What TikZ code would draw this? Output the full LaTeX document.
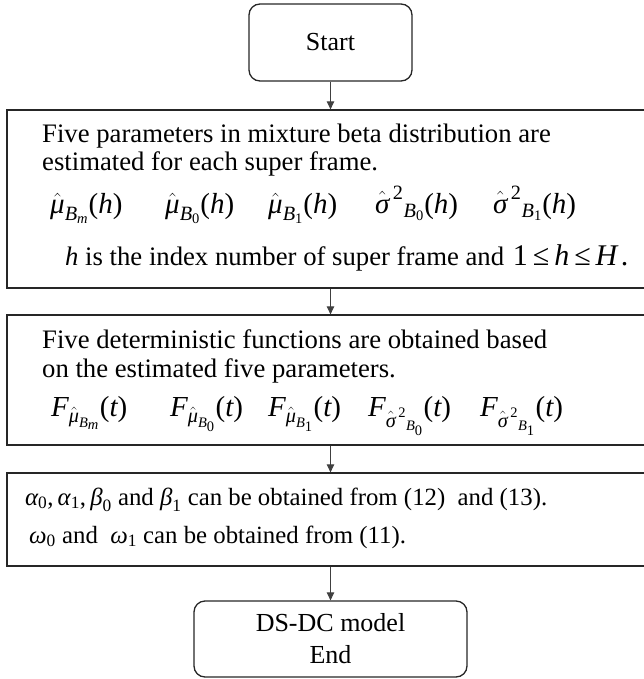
\documentclass[tikz,border=0pt]{standalone}
\usepackage{amsmath}
\usepackage{fontspec}
\setmainfont{Liberation Serif}
\usetikzlibrary{arrows.meta}
\newcommand{\mvar}[1]{\text{\itshape #1}}
\newcommand{\mrm}[1]{\text{\upshape #1}}
\begin{document}
\begin{tikzpicture}[x=1pt,y=-1pt,
  box/.style={draw=black!85, line width=1.3pt, inner sep=0pt},
  term/.style={box, rounded corners=11pt, align=center, font=\fontsize{26}{32}\selectfont},
  txt/.style={anchor=base west, inner sep=0pt, font=\fontsize{26.7}{29}\selectfont},
  txtc/.style={anchor=base west, inner sep=0pt, font=\fontsize{24.8}{29}\selectfont},
  mth/.style={anchor=base west, inner sep=0pt, font=\fontsize{29}{31}\selectfont},
  arr/.style={draw=black!75, line width=0.9pt, -{Triangle[length=8pt,width=7.5pt]}}]
\useasboundingbox (0,0) rectangle (644,679);
\clip (0,0) rectangle (644,679);
% boxes
\node[term, minimum width=163pt, minimum height=77pt] (start) at (330.5,42.5) {Start};
\node[box, minimum width=653pt, minimum height=178pt] (b1) at (333.5,199) {};
\node[box, minimum width=653pt, minimum height=130pt] (b2) at (333.5,380) {};
\node[box, minimum width=653pt, minimum height=93pt] (b3) at (333.5,519.5) {};
\node[term, minimum width=273pt, minimum height=76pt] (end) at (330.5,639) {DS-DC model\\End};
% box 1 text
\node[txt] (t11) at (42,143) {Five parameters in mixture beta distribution are};
\node[txt] (t12) at (42,171) {estimated for each super frame.};
\node[mth] (m11) at (50,213) {$\hat{\mvar{μ}}_{\mvar{B}_{\mvar{m}}}\mrm{(}\mvar{h}\mrm{)}$};
\node[mth] (m12) at (165,213) {$\hat{\mvar{μ}}_{\mvar{B}_{\mrm{0}}}\mrm{(}\mvar{h}\mrm{)}$};
\node[mth] (m13) at (268,213) {$\hat{\mvar{μ}}_{\mvar{B}_{\mrm{1}}}\mrm{(}\mvar{h}\mrm{)}$};
\node[mth] (m14) at (375,213) {$\hat{\mvar{σ}}^{\,\mrm{2}}{}_{\mvar{B}_{\mrm{0}}}\mrm{(}\mvar{h}\mrm{)}$};
\node[mth] (m15) at (493,213) {$\hat{\mvar{σ}}^{\,\mrm{2}}{}_{\mvar{B}_{\mrm{1}}}\mrm{(}\mvar{h}\mrm{)}$};
\node[txt] (t14) at (65,265) {\textit{h} is the index number of super frame and {\fontsize{30}{30}\selectfont\hspace{2pt}1\hspace{5pt}≤\hspace{5pt}\textit{h}\hspace{5pt}≤\hspace{5pt}\textit{H}\hspace{2pt}.}};
% box 2 text
\node[txt] (t21) at (42,348) {Five deterministic functions are obtained based};
\node[txt] (t22) at (42,377) {on the estimated five parameters.};
\node[mth] (m21) at (51,416) {$\mvar{F}_{\hat{\mvar{μ}}_{\mvar{B}_{\mvar{m}}}}\mrm{(}\mvar{t}\mrm{)}$};
\node[mth] (m22) at (170,416) {$\mvar{F}_{\hat{\mvar{μ}}_{\mvar{B}_{\mrm{0}}}}\mrm{(}\mvar{t}\mrm{)}$};
\node[mth] (m23) at (268,416) {$\mvar{F}_{\hat{\mvar{μ}}_{\mvar{B}_{\mrm{1}}}}\mrm{(}\mvar{t}\mrm{)}$};
\node[mth] (m24) at (368,416) {$\mvar{F}_{\hat{\mvar{σ}}^{\,\mrm{2}}{}_{\mvar{B}_{\mrm{0}}}}\mrm{(}\mvar{t}\mrm{)}$};
\node[mth] (m25) at (480,416) {$\mvar{F}_{\hat{\mvar{σ}}^{\,\mrm{2}}{}_{\mvar{B}_{\mrm{1}}}}\mrm{(}\mvar{t}\mrm{)}$};
% box 3 text
\node[txtc] (t31) at (25,505) {$\mvar{α}_{\mrm{0}}\mrm{,}\,\mvar{α}_{\mrm{1}}\mrm{,}\,\mvar{β}_{\mrm{0}}$ and $\mvar{β}_{\mrm{1}}$ can be obtained from (12)\ \ and (13).};
\node[txtc] (t32) at (29,543) {$\mvar{ω}_{\mrm{0}}$ and\ \ $\mvar{ω}_{\mrm{1}}$ can be obtained from (11).};
% arrows
\draw[arr] (start.south) -- (start.south |- b1.north);
\draw[arr] (start.south |- b1.south) -- (start.south |- b2.north);
\draw[arr] (start.south |- b2.south) -- (start.south |- b3.north);
\draw[arr] (start.south |- b3.south) -- (end.north);
\end{tikzpicture}
\end{document}
